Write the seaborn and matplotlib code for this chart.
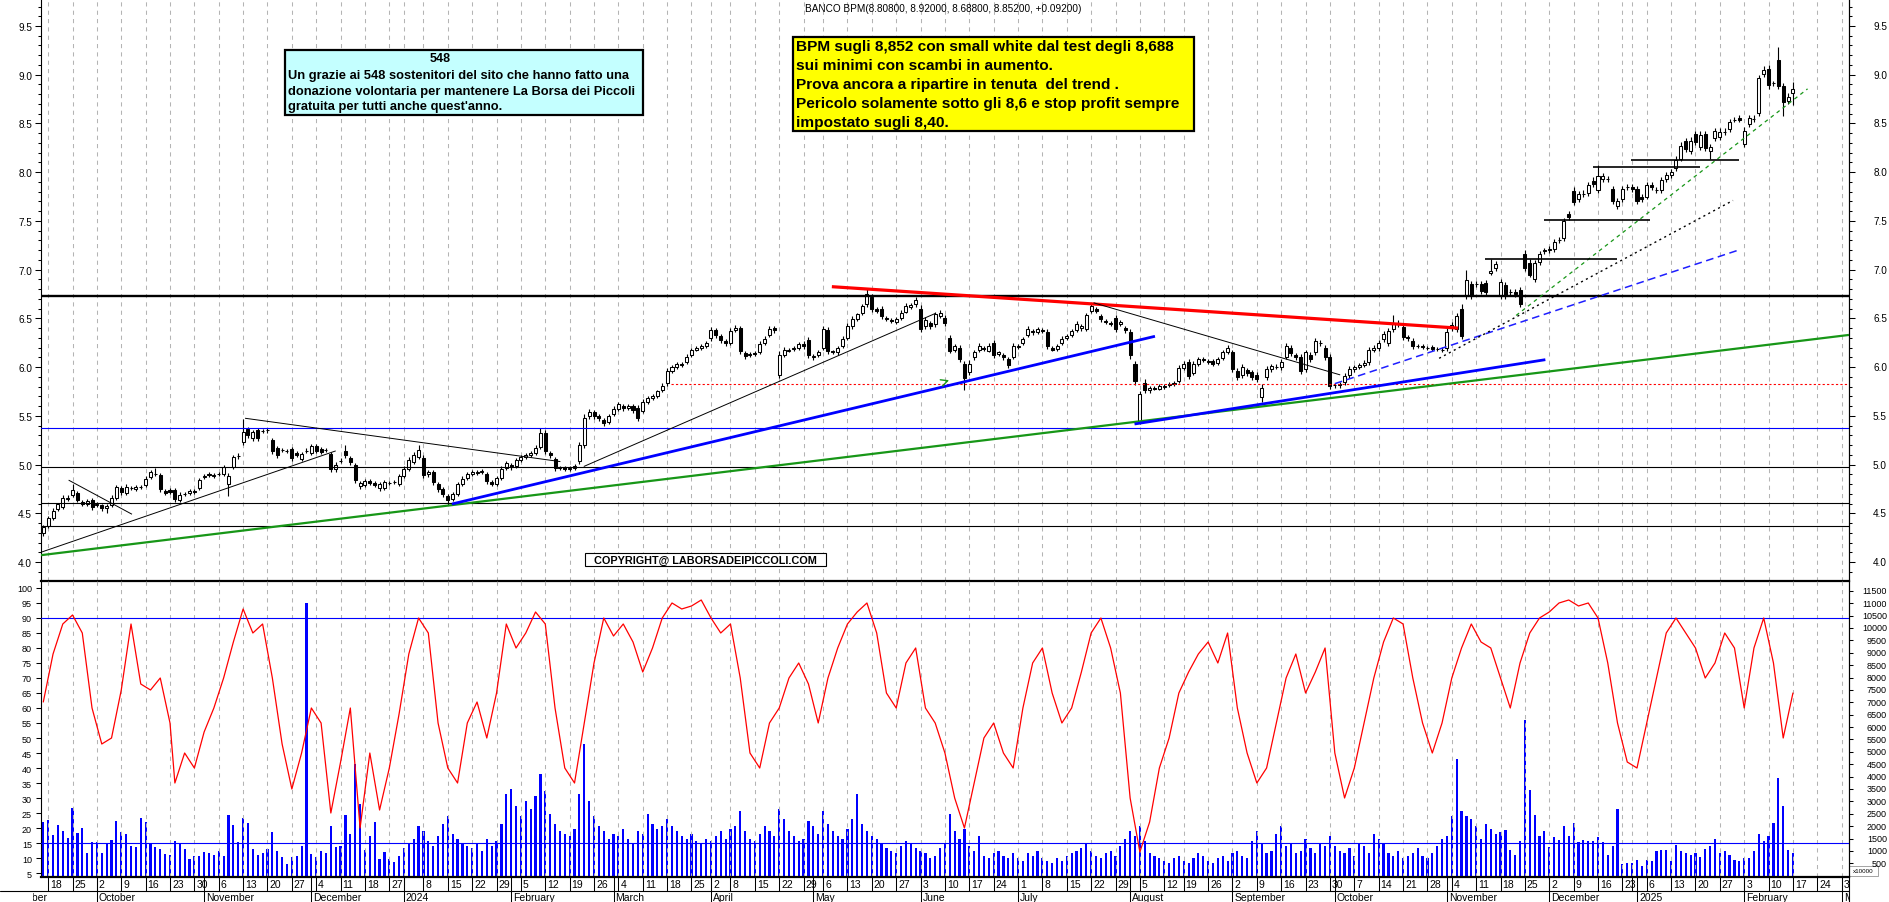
import numpy as np
import pandas as pd
import matplotlib
matplotlib.use("Agg")
import matplotlib.pyplot as plt
import matplotlib.transforms as mtransforms
from matplotlib.patches import Rectangle
from matplotlib.ticker import MultipleLocator, FixedLocator, FormatStrFormatter
import seaborn as sns

sns.set_theme(style="white", rc={"axes.edgecolor": "black", "xtick.color": "black",
                                 "ytick.color": "black", "text.color": "black"})
plt.rcParams["font.family"] = ["Liberation Sans", "DejaVu Sans"]

# ---------------- data ----------------
holidays = ["2023-12-25", "2023-12-26", "2024-01-01", "2024-03-29", "2024-04-01",
            "2024-05-01", "2024-08-15", "2024-12-24", "2024-12-25", "2024-12-26",
            "2024-12-31", "2025-01-01"]

opens = [
    4.30, 4.37, 4.45, 4.54, 4.56, 4.65, 4.69, 4.71, 4.62, 4.59,
    4.64, 4.58, 4.58, 4.55, 4.58, 4.66, 4.76, 4.71, 4.76, 4.75,
    4.77, 4.79, 4.87, 4.90, 4.89, 4.73, 4.74, 4.74, 4.64, 4.70,
    4.71, 4.73, 4.76, 4.87, 4.90, 4.88, 4.90, 4.90, 4.80, 4.97,
    5.09, 5.23, 5.36, 5.27, 5.35, 5.34, 5.35, 5.25, 5.17, 5.15,
    5.14, 5.16, 5.12, 5.06, 5.14, 5.12, 5.19, 5.16, 5.15, 5.11,
    4.95, 5.04, 5.14, 5.07, 5.00, 4.78, 4.79, 4.83, 4.81, 4.76,
    4.76, 4.81, 4.82, 4.80, 4.88, 4.95, 5.03, 5.08, 5.07, 4.90,
    4.92, 4.80, 4.75, 4.68, 4.65, 4.70, 4.80, 4.86, 4.90, 4.92,
    4.92, 4.90, 4.82, 4.80, 4.86, 4.96, 5.00, 4.98, 5.05, 5.08,
    5.10, 5.12, 5.18, 5.32, 5.12, 5.06, 4.96, 4.97, 4.95, 4.96,
    5.04, 5.20, 5.50, 5.54, 5.50, 5.46, 5.44, 5.52, 5.57, 5.60,
    5.58, 5.60, 5.58, 5.55, 5.64, 5.68, 5.70, 5.76, 5.84, 5.96,
    6.00, 6.03, 6.05, 6.12, 6.18, 6.20, 6.22, 6.30, 6.38, 6.32,
    6.27, 6.25, 6.38, 6.40, 6.14, 6.12, 6.14, 6.15, 6.25, 6.33,
    6.40, 5.92, 6.12, 6.17, 6.19, 6.20, 6.24, 6.28, 6.10, 6.12,
    6.20, 6.38, 6.16, 6.15, 6.22, 6.30, 6.42, 6.49, 6.55, 6.65,
    6.72, 6.60, 6.60, 6.50, 6.48, 6.46, 6.50, 6.57, 6.62, 6.65,
    6.60, 6.42, 6.45, 6.44, 6.52, 6.50, 6.30, 6.18, 6.20, 6.03,
    5.95, 6.10, 6.18, 6.20, 6.17, 6.25, 6.13, 6.12, 6.08, 6.10,
    6.21, 6.25, 6.33, 6.37, 6.36, 6.38, 6.36, 6.20, 6.19, 6.25,
    6.30, 6.33, 6.38, 6.40, 6.39, 6.58, 6.60, 6.52, 6.47, 6.45,
    6.50, 6.44, 6.40, 6.36, 6.03, 5.45, 5.84, 5.76, 5.79, 5.78,
    5.80, 5.82, 5.83, 5.86, 5.99, 6.05, 5.94, 6.03, 6.08, 6.06,
    6.06, 6.04, 6.09, 6.15, 6.15, 5.96, 5.92, 5.97, 5.95, 5.92,
    5.69, 5.90, 5.98, 6.00, 6.00, 6.10, 6.20, 6.12, 6.10, 5.98,
    6.12, 6.15, 6.25, 6.20, 6.10, 5.82, 5.82, 5.85, 5.92, 5.98,
    6.00, 6.02, 6.05, 6.18, 6.20, 6.29, 6.25, 6.39, 6.44, 6.41,
    6.31, 6.27, 6.22, 6.22, 6.20, 6.21, 6.19, 6.18, 6.20, 6.40,
    6.39, 6.60, 6.73, 6.85, 6.85, 6.85, 6.86, 6.97, 7.02, 6.73,
    6.84, 6.77, 6.77, 6.79, 7.16, 7.07, 6.90, 7.08, 7.19, 7.20,
    7.21, 7.30, 7.32, 7.57, 7.81, 7.72, 7.78, 7.79, 7.91, 7.82,
    7.93, 7.93, 7.83, 7.65, 7.72, 7.85, 7.85, 7.83, 7.75, 7.75,
    7.87, 7.82, 7.82, 7.93, 7.97, 8.04, 8.14, 8.32, 8.22, 8.39,
    8.26, 8.39, 8.22, 8.35, 8.36, 8.41, 8.44, 8.54, 8.56, 8.29,
    8.49, 8.55, 8.61, 9.01, 9.06, 8.91, 9.15, 8.88, 8.73, 8.808,
]
closes = [
    4.36, 4.45, 4.52, 4.59, 4.66, 4.66, 4.74, 4.64, 4.60, 4.63,
    4.56, 4.59, 4.55, 4.57, 4.66, 4.77, 4.72, 4.77, 4.76, 4.77,
    4.77, 4.85, 4.92, 4.90, 4.75, 4.71, 4.72, 4.65, 4.69, 4.70,
    4.73, 4.72, 4.84, 4.88, 4.89, 4.89, 4.90, 4.97, 4.88, 5.08,
    5.09, 5.33, 5.30, 5.33, 5.27, 5.34, 5.35, 5.14, 5.10, 5.15,
    5.14, 5.07, 5.10, 5.11, 5.14, 5.19, 5.14, 5.13, 5.15, 4.95,
    5.00, 5.04, 5.10, 5.03, 4.84, 4.81, 4.83, 4.81, 4.79, 4.80,
    4.82, 4.81, 4.82, 4.88, 4.95, 5.05, 5.10, 5.15, 4.89, 4.92,
    4.82, 4.75, 4.70, 4.64, 4.70, 4.80, 4.85, 4.90, 4.92, 4.91,
    4.93, 4.83, 4.80, 4.86, 4.95, 5.02, 4.97, 5.05, 5.08, 5.10,
    5.12, 5.17, 5.32, 5.14, 5.10, 4.96, 4.97, 4.95, 4.96, 4.98,
    5.20, 5.48, 5.54, 5.50, 5.48, 5.43, 5.50, 5.57, 5.62, 5.58,
    5.60, 5.56, 5.48, 5.64, 5.68, 5.70, 5.75, 5.81, 5.96, 6.00,
    6.03, 6.02, 6.10, 6.18, 6.20, 6.22, 6.25, 6.38, 6.33, 6.28,
    6.25, 6.37, 6.40, 6.16, 6.11, 6.13, 6.13, 6.24, 6.29, 6.39,
    6.38, 6.12, 6.18, 6.18, 6.20, 6.24, 6.22, 6.12, 6.11, 6.15,
    6.39, 6.16, 6.15, 6.20, 6.29, 6.42, 6.49, 6.54, 6.63, 6.75,
    6.60, 6.58, 6.52, 6.49, 6.47, 6.49, 6.56, 6.63, 6.64, 6.69,
    6.39, 6.48, 6.42, 6.54, 6.56, 6.45, 6.17, 6.22, 6.08, 5.89,
    6.03, 6.15, 6.22, 6.19, 6.22, 6.12, 6.15, 6.10, 6.02, 6.22,
    6.22, 6.29, 6.39, 6.36, 6.39, 6.37, 6.22, 6.18, 6.22, 6.29,
    6.32, 6.37, 6.44, 6.42, 6.53, 6.63, 6.58, 6.49, 6.46, 6.44,
    6.39, 6.46, 6.38, 6.12, 5.86, 5.72, 5.76, 5.79, 5.78, 5.81,
    5.81, 5.83, 5.84, 5.99, 6.03, 5.91, 6.03, 6.08, 6.07, 6.05,
    6.03, 6.08, 6.15, 6.20, 5.98, 5.90, 6.00, 5.94, 5.90, 5.88,
    5.79, 5.98, 6.01, 6.00, 6.05, 6.22, 6.14, 6.10, 5.96, 6.15,
    6.08, 6.27, 6.25, 6.10, 5.81, 5.82, 5.83, 5.91, 5.98, 6.00,
    6.02, 6.04, 6.18, 6.20, 6.25, 6.34, 6.37, 6.44, 6.45, 6.31,
    6.30, 6.22, 6.22, 6.21, 6.20, 6.19, 6.19, 6.18, 6.36, 6.43,
    6.52, 6.32, 6.89, 6.73, 6.85, 6.78, 6.77, 6.99, 7.06, 6.87,
    6.73, 6.77, 6.75, 6.65, 7.02, 6.95, 7.07, 7.16, 7.20, 7.21,
    7.28, 7.30, 7.50, 7.54, 7.69, 7.78, 7.78, 7.87, 7.88, 7.96,
    7.96, 7.93, 7.70, 7.70, 7.83, 7.85, 7.83, 7.70, 7.72, 7.87,
    7.85, 7.82, 7.92, 7.97, 8.00, 8.13, 8.27, 8.24, 8.32, 8.31,
    8.38, 8.25, 8.26, 8.42, 8.41, 8.41, 8.51, 8.54, 8.54, 8.42,
    8.56, 8.55, 8.97, 9.05, 8.89, 8.91, 8.88, 8.72, 8.77, 8.852,
]
# shadows above / below the body, in euro cents
wick_up = [
    2, 2, 3, 2, 3, 3, 6, 2, 2, 2,   2, 3, 2, 2, 3, 2, 2, 3, 2, 2,
    2, 3, 2, 6, 2, 2, 2, 2, 3, 2,   2, 2, 2, 2, 2, 2, 2, 3, 3, 2,
    3, 14, 3, 2, 3, 2, 3, 2, 2, 2,  2, 2, 2, 2, 3, 2, 2, 2, 2, 2,
    3, 3, 6, 2, 2, 2, 2, 2, 2, 2,   2, 2, 2, 2, 3, 3, 3, 5, 3, 2,
    2, 2, 2, 2, 2, 2, 3, 2, 2, 2,   2, 2, 2, 2, 3, 2, 2, 2, 2, 2,
    2, 3, 5, 3, 2, 2, 2, 2, 2, 3,   3, 4, 3, 2, 2, 2, 2, 3, 2, 2,
    2, 2, 3, 3, 2, 2, 2, 3, 3, 2,   2, 2, 3, 2, 2, 2, 2, 3, 2, 2,
    2, 3, 3, 2, 2, 2, 2, 3, 3, 3,   2, 4, 3, 2, 2, 2, 3, 3, 2, 3,
    3, 3, 2, 2, 3, 3, 3, 2, 2, 5,   3, 2, 3, 2, 2, 2, 3, 3, 2, 3,
    4, 3, 2, 3, 3, 3, 3, 2, 3, 3,   4, 3, 3, 2, 3, 3, 2, 2, 2, 3,
    2, 2, 3, 2, 2, 2, 3, 2, 2, 3,   2, 2, 3, 2, 3, 3, 2, 2, 2, 2,
    3, 2, 2, 3, 3, 3, 4, 2, 2, 2,   2, 2, 2, 3, 3, 3, 3, 2, 2, 2,
    2, 2, 3, 3, 3, 3, 3, 2, 2, 3,   4, 3, 2, 3, 3, 3, 3, 2, 3, 3,
    3, 3, 3, 3, 3, 2, 2, 3, 3, 2,   2, 3, 3, 3, 3, 3, 3, 9, 3, 3,
    2, 3, 2, 2, 2, 2, 2, 3, 4, 3,   3, 5, 11, 3, 3, 3, 3, 12, 3, 3,
    3, 3, 3, 3, 4, 4, 3, 3, 2, 3,   3, 3, 3, 3, 4, 3, 4, 3, 4, 11,
    3, 3, 3, 3, 3, 3, 3, 3, 3, 3,   3, 3, 3, 3, 3, 4, 4, 3, 4, 3,
    4, 3, 3, 3, 4, 4, 4, 3, 3, 4,   3, 4, 3, 4, 4, 3, 13, 3, 4, 7,
]
wick_dn = [
    3, 2, 2, 2, 2, 2, 2, 2, 3, 2,   3, 2, 3, 5, 2, 2, 3, 2, 2, 2,
    2, 2, 2, 2, 3, 2, 2, 3, 2, 2,   2, 2, 2, 2, 2, 2, 2, 2, 12, 2,
    3, 3, 3, 3, 3, 2, 3, 3, 3, 2,   2, 3, 2, 2, 2, 2, 2, 2, 2, 3,
    3, 2, 3, 3, 3, 3, 2, 2, 2, 3,   2, 2, 2, 2, 2, 2, 2, 2, 3, 3,
    3, 3, 3, 6, 2, 2, 2, 2, 2, 2,   2, 3, 2, 2, 2, 2, 3, 2, 2, 2,
    2, 2, 2, 3, 3, 3, 2, 2, 2, 2,   3, 3, 3, 3, 3, 3, 2, 2, 2, 3,
    2, 3, 3, 2, 2, 2, 2, 2, 3, 2,   2, 2, 2, 2, 2, 2, 2, 3, 3, 3,
    3, 2, 2, 3, 3, 2, 2, 2, 2, 2,   3, 3, 2, 2, 2, 2, 3, 3, 3, 2,
    2, 3, 2, 3, 2, 2, 3, 2, 2, 3,   3, 3, 3, 2, 2, 2, 2, 2, 2, 3,
    3, 3, 3, 3, 2, 3, 3, 3, 3, 12,  3, 3, 3, 3, 2, 3, 2, 3, 3, 2,
    2, 2, 2, 3, 2, 2, 3, 2, 3, 2,   2, 2, 2, 3, 2, 2, 3, 3, 2, 2,
    3, 2, 3, 4, 4, 3, 3, 3, 2, 2,   2, 2, 2, 2, 2, 3, 2, 2, 2, 2,
    2, 2, 2, 2, 3, 3, 3, 3, 3, 3,   5, 3, 3, 2, 3, 2, 3, 3, 3, 3,
    3, 3, 3, 3, 3, 3, 3, 3, 3, 3,   2, 2, 3, 3, 3, 3, 3, 3, 3, 3,
    3, 3, 2, 2, 2, 3, 2, 3, 3, 3,   3, 3, 3, 3, 3, 3, 3, 3, 3, 3,
    3, 3, 3, 3, 3, 3, 3, 3, 3, 3,   3, 3, 3, 3, 3, 3, 3, 3, 3, 3,
    3, 3, 3, 3, 3, 3, 3, 3, 3, 3,   3, 3, 3, 3, 3, 3, 3, 3, 3, 3,
    3, 3, 8, 3, 3, 3, 3, 3, 3, 3,   3, 3, 3, 3, 4, 3, 3, 14, 3, 12,
]
# volume, x10000 shares
volume = [
    2150, 2260, 1640, 2050, 1820, 1510, 2720, 1720, 1910, 920,
    1370, 1370, 920, 1320, 1440, 2220, 1780, 1680, 1190, 1170,
    2330, 2150, 1280, 1170, 1080, 880, 840, 1410, 1320, 1080,
    670, 810, 810, 970, 920, 840, 1010, 810, 2450, 2050,
    1370, 2320, 2130, 1080, 840, 920, 1080, 1780, 1010, 770,
    470, 770, 810, 1210, 11000, 880, 740, 1010, 920, 1990,
    1150, 1210, 2450, 1680, 4500, 2900, 1020, 1600, 2180, 660,
    960, 660, 550, 800,
    1100, 1300, 1500, 2000, 1800, 1400, 1200, 1600, 2100, 2400, 1700, 1500,
    1300, 1200, 1100, 1300, 1000, 1500, 1200, 1400, 2100, 3300, 3500, 2800,
    2400, 3000, 2700, 3200, 4100, 3400, 2500, 2100, 1800, 1700,
    1600, 1900, 3300, 5300, 3000, 2400, 2000, 1800, 1500, 1700,
    1600, 1900, 1500, 1300, 1800, 1700, 2500, 2100, 1900, 2000,
    2300, 2000, 1800, 1600, 1500, 1700, 1400, 1300, 1500,
    1400, 1600, 1800, 1500, 1900, 2000, 2600, 1800, 1500, 1400, 1700, 2000,
    1800, 1600, 2700, 2300, 1800, 1600, 1400, 1500, 2200, 2000, 1700,
    2600, 2100, 1800, 1600, 1500, 1900, 2300, 3300, 2100, 1800,
    1600, 1500, 1300, 1100, 1000, 900, 1200, 1400, 1300, 1100,
    1000, 900, 700, 800, 1100, 1300, 2500, 1800, 1500, 1900,
    1200, 1000, 1600, 800, 700, 900, 1000, 800, 700, 900,
    700, 600, 900, 800, 1000, 700, 600, 500, 700, 600, 800, 900,
    1000, 1100, 1300, 1000, 800, 700, 900, 1000, 800, 1200, 1500,
    1800, 1600, 2000, 1400, 900, 800, 700, 600, 500, 700, 800,
    600, 500, 700, 900, 800, 600, 500, 700, 800, 600,
    900, 1000, 800, 700, 1400, 1800, 1300, 900, 1000, 1700,
    2000, 1200, 1300, 900, 1000, 1500, 1100, 900, 1300, 1200,
    1600, 1200, 1000, 900, 1100, 800, 1300, 1200, 900, 1700, 1500, 1300,
    900, 800, 1000, 700, 800, 900, 1100, 800, 700, 900, 1200,
    1500, 1600, 2400, 4700, 2600, 2400, 2300, 2000, 1500, 2100, 1900, 1700,
    1780, 1850, 1050, 840, 1390, 6300, 3470, 2460, 1620, 1820, 1170, 1550,
    1440, 2020, 1620, 2110, 1350, 1440, 1390, 1390, 1580, 1350, 840, 1210,
    2690, 470, 500, 500, 630, 380, 630, 610, 980, 1040, 1050, 610,
    1240, 980, 920, 840, 920, 770, 1080, 1190, 1480, 900, 980, 840,
    630, 580, 700, 710, 980, 1680, 1390, 1590, 2130, 3950, 2830, 1050, 920,
]
# oscillator (left scale): (bar index, value)
osc_points = [
    (0, 62), (2, 78), (4, 88), (6, 91), (8, 85), (10, 60), (12, 48), (14, 50), (16, 66),
    (18, 88), (20, 68), (22, 66), (24, 70), (26, 55), (27, 35), (29, 45), (31, 40),
    (33, 52), (35, 60), (37, 70), (39, 82), (41, 93), (43, 85), (45, 88), (47, 70),
    (49, 48), (51, 33), (53, 45), (55, 60), (57, 55), (59, 25), (61, 42), (63, 60),
    (65, 20), (67, 45), (69, 26), (71, 40), (73, 58), (75, 78), (77, 90), (79, 85),
    (81, 55), (83, 40), (85, 35), (87, 55), (89, 62), (91, 50), (93, 65), (95, 88),
    (97, 80), (99, 85), (101, 92), (103, 88), (105, 60), (107, 40), (109, 35), (111, 55),
    (113, 75), (115, 90), (117, 84), (119, 88), (121, 82), (123, 72), (125, 80), (127, 90),
    (129, 95), (131, 93), (133, 94), (135, 96), (137, 90), (139, 85), (141, 88), (143, 70),
    (145, 45), (147, 40), (149, 55), (151, 60), (153, 70), (155, 75), (157, 68), (159, 55),
    (161, 70), (163, 80), (165, 88), (167, 92), (169, 95), (171, 85), (173, 65), (175, 60),
    (177, 75), (179, 80), (181, 60), (183, 55), (185, 45), (187, 30), (189, 20), (191, 35),
    (193, 50), (195, 55), (197, 45), (199, 40), (201, 60), (203, 75), (205, 80), (207, 65),
    (209, 55), (211, 60), (213, 72), (215, 85), (217, 90), (219, 80), (221, 65), (223, 30),
    (225, 12), (227, 22), (229, 40), (231, 50), (233, 65), (235, 72), (237, 78), (239, 82),
    (241, 75), (243, 85), (245, 60), (247, 45), (249, 35), (251, 40), (253, 55), (255, 70),
    (257, 78), (259, 65), (261, 72), (263, 80), (265, 45), (267, 30), (269, 40), (271, 55),
    (273, 70), (275, 82), (277, 90), (279, 88), (281, 70), (283, 55), (285, 45), (287, 55),
    (289, 70), (291, 80), (293, 88), (295, 82), (297, 80), (299, 70), (301, 60), (303, 75),
    (305, 85), (307, 90), (309, 92), (311, 95), (313, 96), (315, 94), (317, 95), (319, 90),
    (321, 75), (323, 55), (325, 42), (327, 40), (329, 55), (331, 70), (333, 85), (335, 90),
    (337, 85), (339, 80), (341, 70), (343, 75), (345, 85), (347, 80), (349, 60), (351, 80),
    (353, 90), (355, 75), (357, 50), (359, 65),
]

# drawn lines on the price panel: (bar0, price0, bar1, price1)
green_long = (-0.47, 4.07, 370.5, 6.33)
blue_thick = [(83.85, 4.595, 228.1, 6.316), (223.9, 5.416, 308.2, 6.076)]
blue_dashed = (265.0, 5.83, 348.1, 7.205)
black_dotted = (286.4, 6.09, 346.7, 7.71)
green_dashed = (302.2, 6.53, 362.0, 8.855)
red_thick = (161.8, 6.825, 290.3, 6.40)
black_thin = [(215.5, 6.66, 266.1, 5.92), (110.9, 4.98, 183.0, 6.55),
              (41.4, 5.475, 106.1, 5.03), (-0.47, 4.10, 60.0, 5.14), (5.2, 4.84, 18.2, 4.49)]
black_segments = [(295.9, 323.0, 7.109), (308.0, 329.7, 7.51), (318.0, 339.9, 8.05),
                  (325.7, 347.9, 8.123)]
level_thick = 6.733
levels_black = [4.972, 4.602, 4.366]
level_blue = 5.38
red_dotted = (128.7, 5.826)
osc_levels = [90, 15]

title = "BANCO BPM(8.80800, 8.92000, 8.68800, 8.85200, +0.09200)"
note_head = "548"
note_lines = ["Un grazie ai 548 sostenitori del sito che hanno fatto una",
              "donazione volontaria per mantenere La Borsa dei Piccoli",
              "gratuita per tutti anche quest'anno."]
comment_lines = ["BPM sugli 8,852 con small white dal test degli 8,688",
                 "sui minimi con scambi in aumento.",
                 "Prova ancora a ripartire in tenuta  del trend .",
                 "Pericolo solamente sotto gli 8,6 e stop profit sempre",
                 "impostato sugli 8,40."]
copyright_text = "COPYRIGHT@ LABORSADEIPICCOLI.COM"
month_names = {2: "February", 3: "March", 4: "April", 5: "May", 6: "June", 7: "July",
               8: "August", 9: "September", 10: "October", 11: "November", 12: "December"}

# ---------------- calendar ----------------
days = pd.bdate_range("2023-09-15", "2025-02-17")
days = days[~days.isin(pd.to_datetime(holidays))]
cal = days.append(pd.bdate_range("2025-02-18", "2025-03-14"))
n = len(days)
for name, arr in [("opens", opens), ("closes", closes), ("wick_up", wick_up),
                  ("wick_dn", wick_dn), ("volume", volume)]:
    if len(arr) != n:
        raise ValueError(f"{name} has {len(arr)} values, expected {n}")

wk = cal.to_period("W")
week_ticks = [i for i in range(1, len(cal)) if wk[i] != wk[i - 1]]
mp = cal.to_period("M")
month_starts = [i for i in range(1, len(cal)) if mp[i] != mp[i - 1]]
year_starts = [i for i in month_starts if cal[i].month == 1]

# ---------------- figure ----------------
W, H = 1890, 903
fig = plt.figure(figsize=(W / 100, H / 100), dpi=100)
pix = mtransforms.Affine2D().scale(1 / W, -1 / H).translate(0, 1) + fig.transFigure


def rect(x0, y0, x1, y1):
    return [x0 / W, 1 - y1 / H, (x1 - x0) / W, (y1 - y0) / H]


XL = (-0.47, 370.5)
ax = fig.add_axes(rect(41, 0, 1849, 582))
axo = fig.add_axes(rect(41, 582, 1849, 878))
axv = axo.twinx()
axd = fig.add_axes(rect(33, 878, 1849, 903))
for a in (ax, axo):
    a.set_xlim(XL)
axd.set_xlim(-2.113, 370.5)

grid_kw = dict(colors="#b4b4b4", linestyles=(0, (4, 4)), linewidth=0.75, zorder=0)

# ---- price panel ----
PY = (3.805, 9.777)
ax.set_ylim(PY)
ax.vlines(week_ticks, PY[0], PY[1], **grid_kw)
o = np.array(opens)
c = np.array(closes)
hi = np.maximum(o, c) + np.array(wick_up) / 100
lo = np.minimum(o, c) - np.array(wick_dn) / 100
x = np.arange(n)
ax.vlines(x, lo, hi, colors="black", linewidth=0.8, zorder=4)
up = c >= o
ax.bar(x[up], (c - o)[up], bottom=o[up], width=0.62, color="white",
       edgecolor="black", linewidth=0.75, zorder=5)
ax.bar(x[~up], (o - c)[~up], bottom=c[~up], width=0.62, color="black",
       edgecolor="black", linewidth=0.75, zorder=5)

ax.axhline(level_thick, color="black", lw=1.7, zorder=6)
for lv in levels_black:
    ax.axhline(lv, color="black", lw=0.8, zorder=6)
ax.axhline(level_blue, color="#0000ff", lw=0.8, zorder=6)
ax.hlines(red_dotted[1], red_dotted[0], XL[1], colors="#ff0000", lw=0.8,
          linestyles=(0, (2, 2)), zorder=6)


def seg(p, **kw):
    ax.plot([p[0], p[2]], [p[1], p[3]], solid_capstyle="butt", zorder=7, **kw)


seg(green_long, color="#179617", lw=1.6)
for p in blue_thick:
    seg(p, color="#0000ff", lw=2.0)
seg(red_thick, color="#ff0000", lw=2.3)
seg(blue_dashed, color="#1e1eff", lw=1.1, ls=(0, (5, 3)))
seg(black_dotted, color="black", lw=1.0, ls=(0, (1.5, 2.5)))
seg(green_dashed, color="#179617", lw=0.9, ls=(0, (3, 3)))
for p in black_thin:
    seg(p, color="black", lw=0.7)
for s in black_segments:
    ax.hlines(s[2], s[0], s[1], colors="black", lw=1.2, zorder=7)
ax.annotate("", xy=(186.4, 5.875), xytext=(184.7, 5.845),
            arrowprops=dict(arrowstyle="->", color="#179617", lw=1.0), zorder=7)

ax.yaxis.set_major_locator(MultipleLocator(0.5))
ax.yaxis.set_minor_locator(MultipleLocator(0.1))
ax.yaxis.set_major_formatter(FormatStrFormatter("%.1f"))
ax.tick_params(axis="y", which="both", left=True, right=True, labelright=False,
               direction="out", width=0.75)
ax.tick_params(axis="y", which="major", length=4.3, labelsize=7.2, pad=2)
ax.tick_params(axis="y", which="minor", length=2.2)
ax.tick_params(axis="x", bottom=False, labelbottom=False)
for v in np.arange(4.0, 9.51, 0.5):
    ax.text(1.02102, v, f"{v:.1f}", transform=ax.get_yaxis_transform(), ha="right",
            va="center", fontsize=7.2, clip_on=False)
ax.spines["top"].set_visible(False)
ax.spines["bottom"].set_linewidth(1.6)
for s in ("left", "right"):
    ax.spines[s].set_linewidth(0.8)

# ---- oscillator / volume panel ----
OY = (3.67, 102.33)
VY = (-53, 11897)
axo.set_ylim(OY)
axv.set_ylim(VY)
axv.set_zorder(1)
axo.set_zorder(2)
axo.patch.set_visible(False)
axo.vlines(week_ticks, OY[0], OY[1], **grid_kw)
axv.bar(x, volume, width=0.45, color="#0000ff", linewidth=0)
for lv in osc_levels:
    axo.axhline(lv, color="#0000ff", lw=0.8, zorder=3)
osc = pd.DataFrame(osc_points, columns=["bar", "value"])
sns.lineplot(data=osc, x="bar", y="value", ax=axo, color="#ff0000", linewidth=0.9,
             errorbar=None, zorder=5)
axo.set_xlabel("")
axo.set_ylabel("")
axo.set_xlim(XL)
axo.yaxis.set_major_locator(FixedLocator(np.arange(5, 101, 5)))
axo.tick_params(axis="y", left=True, length=3.6, width=0.75, labelsize=6.5, pad=2.9,
                direction="out")
axo.tick_params(axis="x", bottom=False, labelbottom=False)
axv.yaxis.set_major_locator(FixedLocator(np.arange(500, 11501, 500)))
axv.tick_params(axis="y", right=True, labelright=False, length=3, width=0.75,
                direction="out")
for v in np.arange(500, 11501, 500):
    axv.text(1.02102, v, f"{v}", transform=axv.get_yaxis_transform(), ha="right",
             va="center", fontsize=6.5, clip_on=False)
axo.spines["top"].set_visible(False)
axo.spines["bottom"].set_linewidth(1.6)
for s in ("left", "right"):
    axo.spines[s].set_linewidth(0.8)
for s in axv.spines.values():
    s.set_visible(False)

# ---- date rows ----
axd.set_ylim(0, 25)
axd.set_axis_off()
axd.vlines(week_ticks, 11, 25, colors="black", lw=0.75)
axd.vlines(month_starts, 0, 25, colors="black", lw=0.75)
for t in week_ticks:
    if any(0 <= ys - t <= 1 for ys in year_starts):
        continue
    axd.text(t + 0.4, 17.5, str(cal[t].day), ha="left", va="center", fontsize=7.5,
             clip_on=True)
for m in month_starts:
    d = cal[m]
    label = str(d.year) if d.month == 1 else month_names[d.month]
    axd.text(m + 0.4, 5.0, label, ha="left", va="center", fontsize=7.5, clip_on=True)
axd.text(-10 + 0.4, 5.0, "September", ha="left", va="center", fontsize=7.5, clip_on=True)
fig.add_artist(plt.Line2D([0, 1849 / W], [1 - 892 / H, 1 - 892 / H], color="black",
                          lw=0.8, transform=fig.transFigure))
fig.add_artist(plt.Line2D([1849 / W, 1849 / W], [0, 1], color="black", lw=0.8,
                          transform=fig.transFigure))

# ---- annotations ----
fig.text(805, 9, title, transform=pix, ha="left", va="center", fontsize=7.2)
fig.add_artist(Rectangle((285, 51), 358, 65, transform=pix, facecolor="#c4ffff",
                         edgecolor="black", lw=1.6))
fig.text(440, 59, note_head, transform=pix, ha="center", va="center", fontsize=9,
         fontweight="bold")
for k, line in enumerate(note_lines):
    fig.text(288, 76 + 15.5 * k, line, transform=pix, ha="left", va="center",
             fontsize=9.3, fontweight="bold")
fig.add_artist(Rectangle((793, 38), 401, 94, transform=pix, facecolor="#ffff00",
                         edgecolor="black", lw=1.6))
for k, line in enumerate(comment_lines):
    fig.text(796, 47 + 19 * k, line, transform=pix, ha="left", va="center",
             fontsize=11.1, fontweight="bold")
fig.add_artist(Rectangle((585, 554), 241, 13, transform=pix, facecolor="white",
                         edgecolor="black", lw=0.8))
fig.text(705.5, 561, copyright_text, transform=pix, ha="center", va="center",
         fontsize=7.8, fontweight="bold")
fig.add_artist(Rectangle((1849, 867), 29, 10, transform=pix, facecolor="white",
                         edgecolor="#808080", lw=0.5))
fig.text(1863.5, 872, "x10000", transform=pix, ha="center", va="center", fontsize=4.5)

fig.savefig("out.png", dpi=100)
